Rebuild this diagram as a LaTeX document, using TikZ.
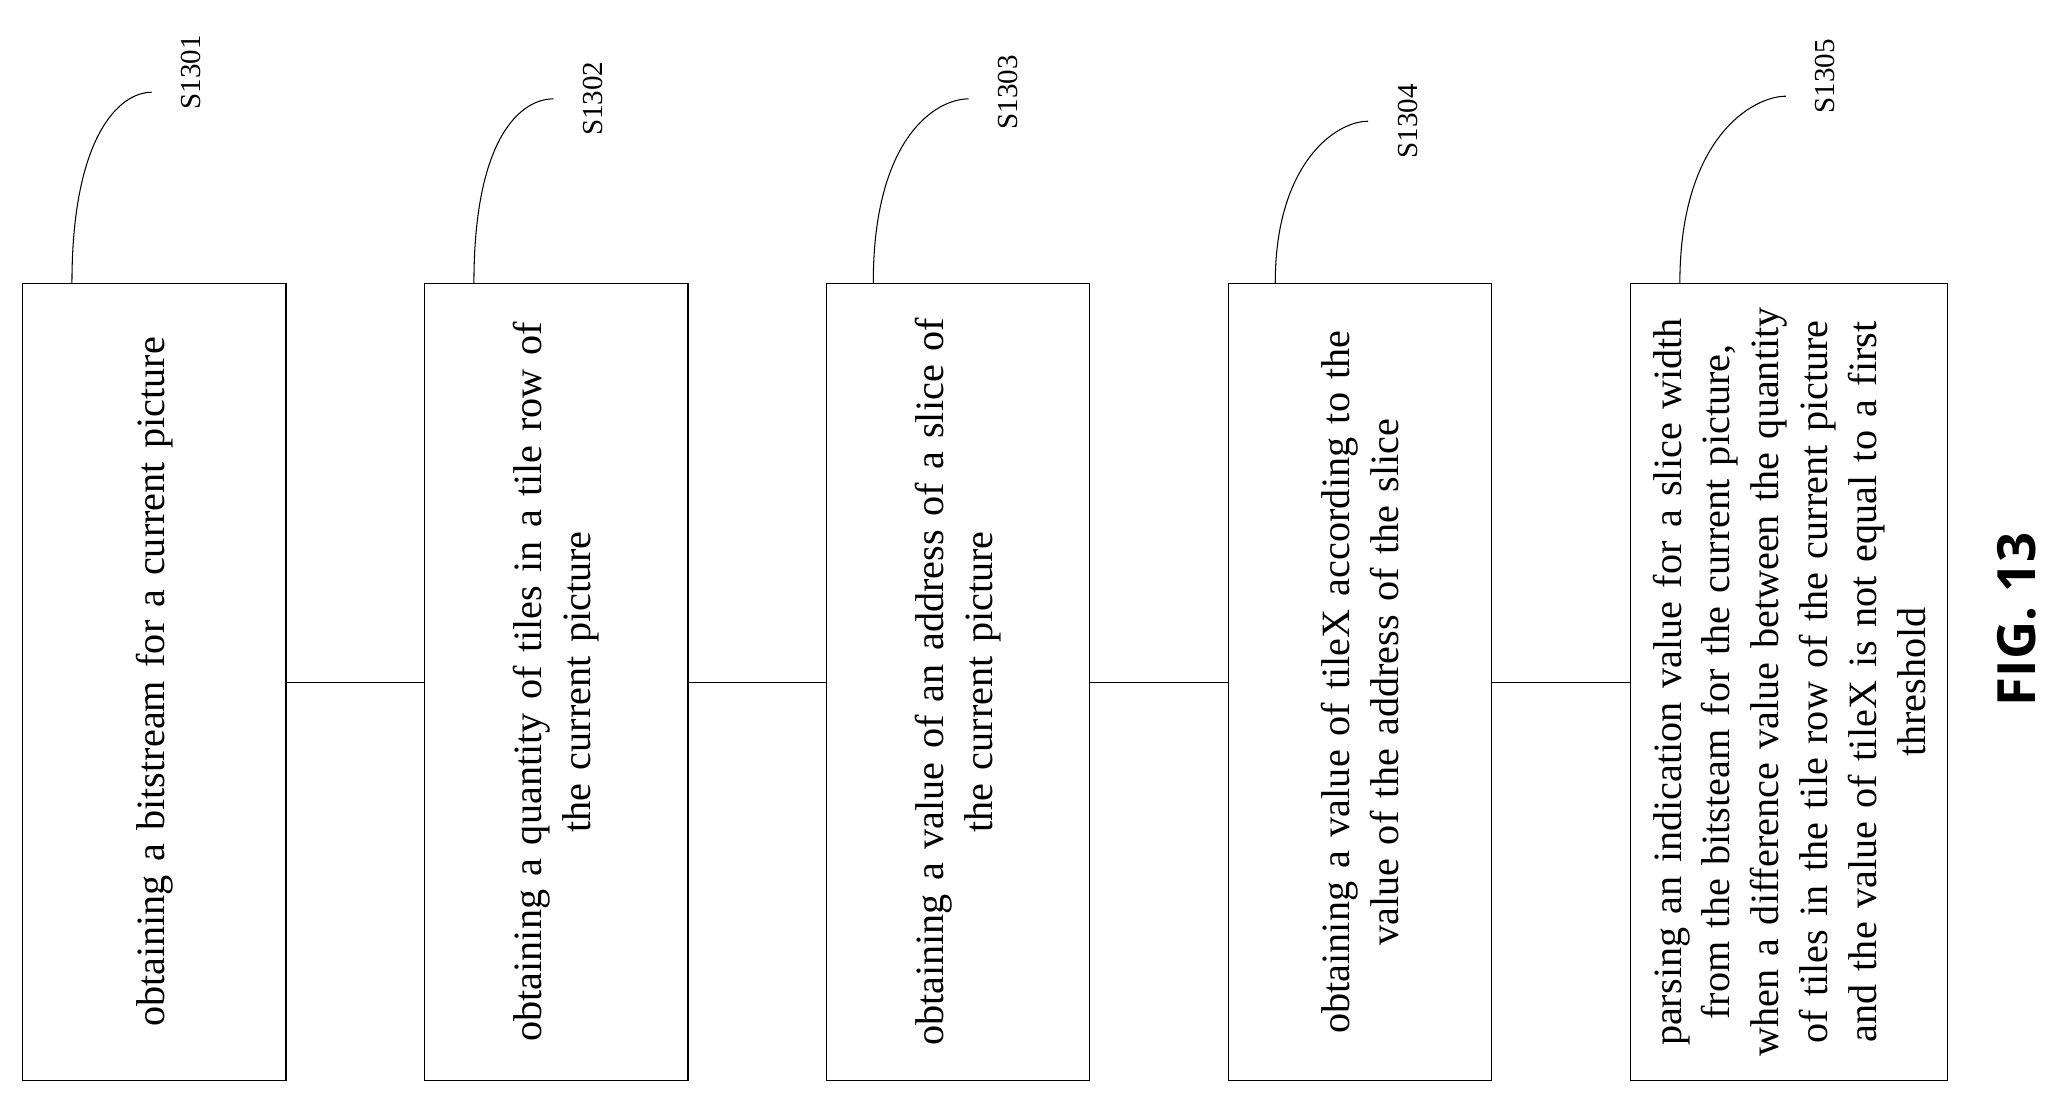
\documentclass[tikz,border=0pt]{standalone}
\usepackage{fontspec}
\setmainfont{Liberation Serif}
\newfontfamily\figfont{Open Sans}
\usetikzlibrary{positioning,calc}
\begin{document}
\begin{tikzpicture}[x=1pt,y=-1pt,
  stepbox/.style={draw, thick, minimum height=605pt, inner sep=0pt},
  steptext/.style={rotate=90, align=center, font=\fontsize{30.5}{37}\selectfont},
  tag/.style={rotate=90, font=\fontsize{22}{26}\selectfont, inner sep=2pt},
  leader/.style={thick}
]
\useasboundingbox (0,0) rectangle (1560,830);
% process boxes
\node[stepbox, minimum width=200pt] (b1) at (117,517.5) {};
\node[stepbox, minimum width=200pt] (b2) at (422,517.5) {};
\node[stepbox, minimum width=200pt] (b3) at (727,517.5) {};
\node[stepbox, minimum width=200pt] (b4) at (1032,517.5) {};
\node[stepbox, minimum width=241pt] (b5) at (1357.5,517.5) {};

\node[steptext, text width=590pt] at (b1) {obtaining a bitstream for a current picture};
\node[steptext, text width=590pt] at (b2) {obtaining a quantity of tiles in a tile row of\\the current picture};
\node[steptext, text width=590pt] at (b3) {obtaining a value of an address of a slice of\\the current picture};
\node[steptext, text width=590pt] at (b4) {obtaining a value of tileX according to the\\value of the address of the slice};
\node[steptext, text width=595pt] at (b5) {parsing an indication value for a slice width\\from the bitsteam for the current picture,\\when a difference value between the quantity\\of tiles in the tile row of the current picture\\and the value of tileX is not equal to a first\\threshold};

% connectors
\draw[thick] (b1) -- (b2);
\draw[thick] (b2) -- (b3);
\draw[thick] (b3) -- (b4);
\draw[thick] (b4) -- (b5);

% step labels
\node[tag] (s1) at (145,55) {S1301};
\node[tag] (s2) at (450,75) {S1302};
\node[tag] (s3) at (765,70) {S1303};
\node[tag] (s4) at (1068,92) {S1304};
\node[tag] (s5) at (1385,58) {S1305};
\coordinate (e1) at ($(s1)+(-30,15)$);
\coordinate (e2) at ($(s2)+(-30,0)$);
\coordinate (e3) at ($(s3)+(-30,5)$);
\coordinate (e4) at ($(s4)+(-30,0)$);
\coordinate (e5) at ($(s5)+(-30,15)$);

\draw[leader] ($(b1.north west)+(38,0)$) .. controls +(0,-110) and +(-25,0) .. (e1);
\draw[leader] ($(b2.north west)+(38,0)$) .. controls +(0,-110) and +(-25,0) .. (e2);
\draw[leader] ($(b3.north west)+(36,0)$) .. controls +(0,-110) and +(-25,0) .. (e3);
\draw[leader] ($(b4.north west)+(36,0)$) .. controls +(0,-90) and +(-25,0) .. (e4);
\draw[leader] ($(b5.north west)+(38,0)$) .. controls +(0,-110) and +(-25,0) .. (e5);

\node[rotate=90, font=\figfont\bfseries\fontsize{40}{44}\selectfont] (fig) at (1530,470) {FIG. 13};
\end{tikzpicture}
\end{document}
